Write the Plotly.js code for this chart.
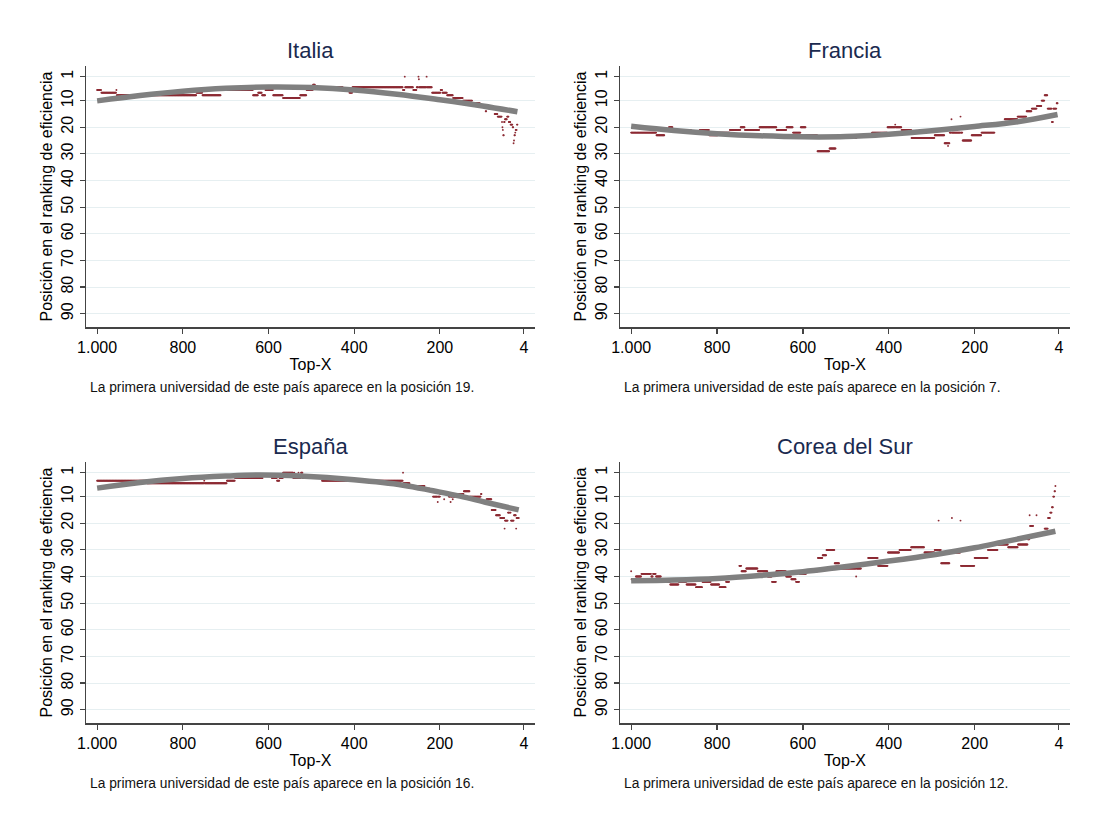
<!DOCTYPE html>
<html>
<head>
<meta charset="utf-8">
<script src="https://cdn.plot.ly/plotly-3.0.1.min.js"></script>
<style>
  html, body { margin: 0; padding: 0; background: #fff; }
  #grafico { width: 1106px; height: 829px; }
</style>
</head>
<body>
<div id="grafico"></div>
<script>
// ── Posición del país en el ranking de eficiencia según Top-X ──────────────

const paises      = ['Italia', 'Francia', 'España', 'Corea del Sur'];
const primeraPos  = [19, 7, 16, 12];
const ticksX      = [1000, 800, 600, 400, 200, 4];
const ticksXTexto = ['1.000', '800', '600', '400', '200', '4'];
const ticksY      = [1, 10, 20, 30, 40, 50, 60, 70, 80, 90];

// Tramos: [Top-X desde, Top-X hasta, posición]
const italiaTramos = [
    [1000, 991, 6], [990, 956, 7], [955, 955, 6], [954, 769, 8], [768, 755, 7],
    [754, 712, 8], [711, 637, 6], [636, 625, 8], [624, 616, 7], [615, 608, 8],
    [607, 590, 6], [589, 567, 8], [566, 527, 9], [526, 512, 8], [511, 497, 6],
    [496, 492, 4], [491, 427, 5], [426, 412, 6], [411, 405, 7], [404, 287, 5],
    [286, 283, 6], [282, 282, 1], [281, 263, 5], [262, 255, 6], [254, 251, 5],
    [250, 250, 1], [249, 249, 2], [248, 232, 5], [231, 231, 1], [230, 219, 5],
    [218, 199, 7], [198, 195, 6], [194, 184, 7], [183, 170, 8], [169, 147, 9],
    [146, 125, 10], [124, 107, 11], [106, 94, 12], [93, 92, 14], [91, 86, 12],
    [85, 73, 13], [72, 66, 15], [65, 56, 16], [55, 55, 18], [54, 54, 20],
    [53, 53, 21], [52, 51, 23], [50, 49, 18], [48, 44, 17], [43, 40, 16],
    [39, 36, 18], [35, 31, 19], [30, 29, 20], [28, 28, 26], [27, 27, 25],
    [26, 25, 23], [24, 24, 22], [23, 21, 21], [20, 19, 19],
];
const franciaTramos = [
    [1000, 942, 22], [941, 923, 23], [922, 913, 21], [912, 904, 20], [903, 861, 21],
    [860, 841, 22], [840, 819, 21], [818, 799, 23], [798, 771, 22], [770, 746, 21],
    [745, 736, 20], [735, 702, 21], [701, 662, 20], [661, 639, 21], [638, 624, 20],
    [623, 606, 22], [605, 594, 20], [593, 567, 23], [566, 539, 29], [538, 524, 28],
    [523, 476, 24], [475, 440, 23], [439, 404, 22], [403, 386, 20], [385, 385, 19],
    [384, 371, 20], [370, 348, 21], [347, 294, 24], [293, 271, 23], [270, 263, 26],
    [262, 262, 27], [261, 259, 26], [258, 255, 22], [254, 254, 17], [253, 234, 22],
    [233, 233, 16], [232, 229, 22], [228, 208, 25], [207, 185, 23], [184, 154, 22],
    [153, 131, 19], [130, 101, 17], [100, 80, 16], [79, 68, 14], [67, 56, 13],
    [55, 45, 12], [44, 38, 10], [37, 31, 8], [30, 21, 13], [20, 18, 18],
    [17, 10, 13], [9, 7, 11],
];
const espanaTramos = [
    [1000, 884, 4], [883, 751, 5], [750, 750, 4], [749, 698, 5], [697, 679, 4],
    [678, 614, 3], [613, 593, 2], [592, 581, 3], [580, 575, 4], [574, 567, 3],
    [566, 543, 1], [542, 541, 3], [540, 540, 1], [539, 531, 3], [530, 530, 1],
    [529, 525, 3], [524, 521, 1], [520, 476, 3], [475, 421, 4], [420, 420, 3],
    [419, 287, 4], [286, 286, 1], [285, 271, 5], [270, 236, 6], [235, 224, 7],
    [223, 217, 8], [216, 206, 10], [205, 205, 12], [204, 200, 10], [199, 191, 9],
    [190, 190, 11], [189, 180, 9], [179, 176, 10], [175, 175, 12], [174, 171, 10],
    [170, 170, 11], [169, 161, 10], [160, 145, 9], [144, 131, 8], [130, 105, 10],
    [104, 103, 9], [102, 92, 12], [91, 80, 11], [79, 70, 15], [69, 60, 17],
    [59, 50, 18], [49, 49, 22], [48, 42, 19], [41, 38, 16], [37, 37, 14],
    [36, 35, 16], [34, 28, 19], [27, 23, 17], [22, 22, 22], [21, 16, 18],
];
const coreaTramos = [
    [1000, 1000, 38], [999, 990, 41], [989, 977, 40], [976, 954, 39], [953, 950, 40],
    [949, 943, 39], [942, 931, 40], [930, 910, 42], [909, 890, 43], [889, 872, 42],
    [871, 850, 43], [849, 835, 44], [834, 815, 42], [814, 795, 43], [794, 780, 44],
    [779, 772, 42], [771, 749, 40], [748, 744, 36], [743, 733, 38], [732, 706, 37],
    [705, 683, 38], [682, 673, 40], [672, 663, 42], [662, 640, 38], [639, 628, 40],
    [627, 617, 41], [616, 609, 42], [608, 593, 39], [592, 566, 38], [565, 555, 33],
    [554, 546, 32], [545, 527, 30], [526, 516, 35], [515, 477, 37], [476, 476, 40],
    [475, 465, 37], [464, 449, 35], [448, 426, 33], [425, 403, 36], [402, 376, 31],
    [375, 349, 30], [348, 318, 29], [317, 294, 31], [293, 285, 30], [284, 284, 19],
    [283, 279, 30], [278, 259, 35], [258, 254, 31], [253, 253, 18], [252, 234, 31],
    [233, 233, 19], [232, 201, 36], [200, 170, 33], [169, 147, 30], [146, 123, 28],
    [122, 100, 29], [99, 77, 28], [76, 73, 26], [72, 72, 17], [71, 64, 21],
    [63, 57, 25], [56, 56, 17], [55, 38, 24], [37, 30, 22], [29, 25, 18],
    [24, 21, 16], [20, 18, 14], [17, 15, 10], [14, 13, 8], [12, 12, 6],
];

// Ajuste cuadrático (línea gris)
const italiaAjusteX  = [1000, 900, 800, 700, 600, 500, 400, 300, 200, 100, 19];
const italiaAjusteY  = [10.1, 8.1, 6.5, 5.4, 4.9, 5.1, 6.0, 7.6, 9.7, 12.0, 14.2];
const franciaAjusteX = [1000, 900, 800, 700, 600, 500, 400, 300, 200, 100, 7];
const franciaAjusteY = [19.6, 21.2, 22.4, 23.2, 23.6, 23.5, 22.6, 21.3, 19.7, 17.9, 15.2];
const espanaAjusteX  = [1000, 900, 800, 700, 620, 526, 400, 286, 216, 153, 91, 16];
const espanaAjusteY  = [6.8, 4.7, 3.2, 2.3, 1.9, 2.3, 3.7, 5.7, 7.8, 9.8, 12.2, 15.0];
const coreaAjusteX   = [1000, 900, 800, 700, 600, 526, 400, 291, 200, 138, 60, 12];
const coreaAjusteY   = [41.6, 41.3, 40.7, 39.6, 38.2, 36.8, 34.2, 31.7, 29.2, 27.2, 24.6, 23.0];

const tramos  = [italiaTramos, franciaTramos, espanaTramos, coreaTramos];
const ajustes = [
    [italiaAjusteX, italiaAjusteY], [franciaAjusteX, franciaAjusteY],
    [espanaAjusteX, espanaAjusteY], [coreaAjusteX, coreaAjusteY],
];

// ── Estilo ────────────────────────────────────────────────────────────────
const W = 1106, H = 829;
const FUENTE = 'Liberation Sans, Arial, sans-serif';
const ROJO = '#8c2a33';
const GRIS = '#808080';

// cajas de cada panel en píxeles: [izq, der, arriba, abajo]
const cajas = [
    [86, 535, 66, 327], [620, 1070, 66, 327],
    [86, 535, 462, 723], [620, 1070, 462, 723],
];
const px = v => v / W;
const py = v => 1 - v / H;

function desplegar(lista) {
    const xs = [], ys = [];
    lista.forEach(([desde, hasta, pos]) => {
        for (let x = desde; x >= hasta; x--) { xs.push(x); ys.push(pos); }
    });
    return { xs, ys };
}

const trazas = [];
const layout = {
    width: W, height: H,
    margin: { t: 0, r: 0, b: 0, l: 0 },
    paper_bgcolor: '#fff', plot_bgcolor: '#fff',
    showlegend: false,
    font: { family: FUENTE, color: '#000' },
    annotations: [],
};

paises.forEach((pais, i) => {
    const n = i === 0 ? '' : String(i + 1);
    const [l, r, t, b] = cajas[i];
    const puntos = desplegar(tramos[i]);

    trazas.push({
        type: 'scatter', mode: 'markers',
        x: puntos.xs, y: puntos.ys,
        xaxis: 'x' + n, yaxis: 'y' + n,
        marker: { size: 1.9, color: ROJO },
        hoverinfo: 'x+y',
    });
    trazas.push({
        type: 'scatter', mode: 'lines',
        x: ajustes[i][0], y: ajustes[i][1],
        xaxis: 'x' + n, yaxis: 'y' + n,
        line: { color: GRIS, width: 5.5, shape: 'spline', smoothing: 1 },
        hoverinfo: 'skip',
    });

    layout['xaxis' + n] = {
        domain: [px(l), px(r)], anchor: 'y' + n,
        range: [1026, -22],
        tickvals: ticksX, ticktext: ticksXTexto,
        ticks: 'outside', ticklen: 5, tickwidth: 1.2, tickcolor: '#444',
        showline: true, linecolor: '#444', linewidth: 1.5,
        showgrid: false, zeroline: false,
        tickfont: { size: 16, family: FUENTE, color: '#000' },
        title: { text: 'Top-X', font: { size: 16, family: FUENTE, color: '#000' }, standoff: 4 },
    };
    layout['yaxis' + n] = {
        domain: [py(b), py(t)], anchor: 'x' + n,
        range: [95, -3],
        tickvals: ticksY, tickangle: -90,
        ticks: 'outside', ticklen: 5, tickwidth: 1.2, tickcolor: '#444',
        showline: true, linecolor: '#444', linewidth: 1.5,
        showgrid: true, gridcolor: '#e6eff1', gridwidth: 1,
        zeroline: false,
        tickfont: { size: 16, family: FUENTE, color: '#000' },
        title: { text: 'Posición en el ranking de eficiencia',
                 font: { size: 16, family: FUENTE, color: '#000' }, standoff: 2 },
    };

    layout.annotations.push({
        text: pais, xref: 'paper', yref: 'paper',
        x: px((l + r) / 2), y: py(t - 16), xanchor: 'center', yanchor: 'middle',
        showarrow: false, font: { size: 22, family: FUENTE, color: '#1a2a4f' },
    });
    layout.annotations.push({
        text: `La primera universidad de este país aparece en la posición ${primeraPos[i]}.`,
        xref: 'paper', yref: 'paper',
        x: px(l + 2), y: py(b + 60), xanchor: 'left', yanchor: 'middle',
        showarrow: false, font: { size: 13.8, family: FUENTE, color: '#111' },
    });
});

Plotly.newPlot('grafico', trazas, layout, { displayModeBar: false, staticPlot: true });
</script>
</body>
</html>
